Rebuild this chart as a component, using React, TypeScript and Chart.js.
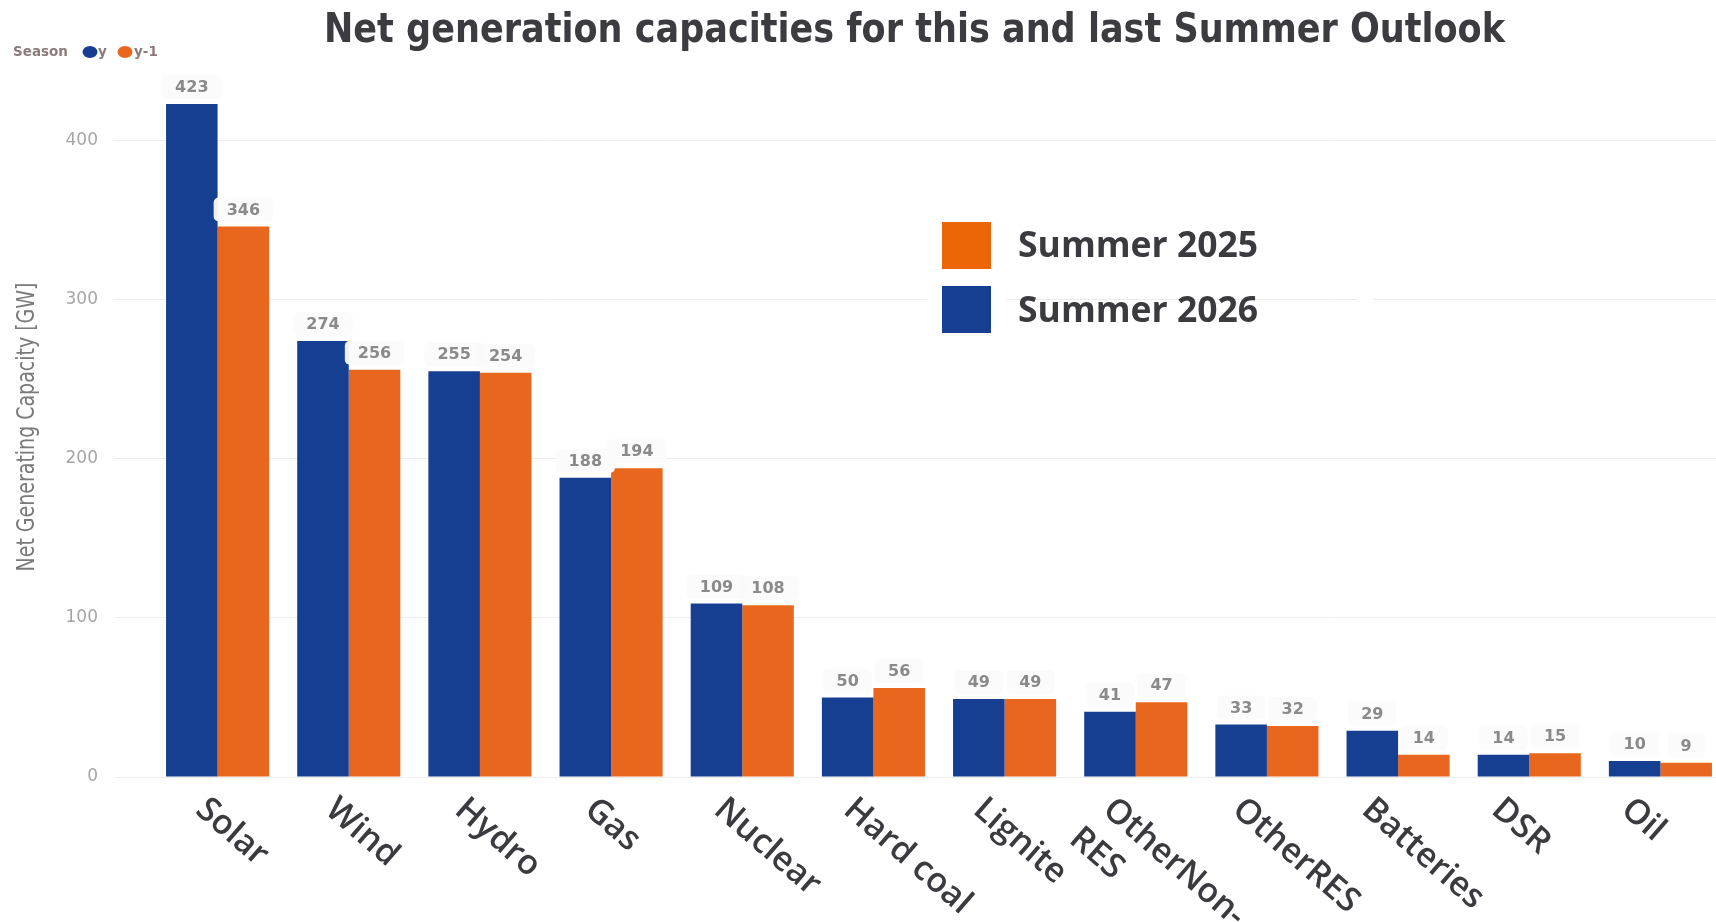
import React, { useEffect, useRef } from 'react';
import { Chart, registerables } from 'chart.js';

Chart.register(...registerables);

// ---------- data ----------
const categories = ['Solar', 'Wind', 'Hydro', 'Gas', 'Nuclear', 'Hard coal', 'Lignite', 'OtherNon-RES', 'OtherRES', 'Batteries', 'DSR', 'Oil'];
const categoryLines = [['Solar'], ['Wind'], ['Hydro'], ['Gas'], ['Nuclear'], ['Hard coal'], ['Lignite'], ['OtherNon-', 'RES'], ['OtherRES'], ['Batteries'], ['DSR'], ['Oil']];
const summer2026 = [423, 274, 255, 188, 109, 50, 49, 41, 33, 29, 14, 10];
const summer2025 = [346, 256, 254, 194, 108, 56, 49, 47, 32, 14, 15, 9];
const yTickValues = [0, 100, 200, 300, 400];
const seriesNames = ['Summer 2026', 'Summer 2025'];
const seasonLegend = ['y', 'y-1'];
const titleText = 'Net generation capacities for this and last Summer Outlook';
const yTitleText = 'Net Generating Capacity [GW]';

const BLUE = '#173f91';
const ORANGE = '#e9661e';
const LEG_BLUE = '#163f92';
const LEG_ORANGE = '#ec6608';

function drawFitText(ctx: CanvasRenderingContext2D, text: string, x: number, y: number, width: number) {
  const m = ctx.measureText(text).width;
  ctx.save();
  ctx.translate(x, y);
  ctx.scale(width / m, 1);
  ctx.fillText(text, -m / 2, 0);
  ctx.restore();
}

const decorPlugin = {
  id: 'decor',
  afterDatasetsDraw(chart: any) {
    const ctx: CanvasRenderingContext2D = chart.ctx;
    ctx.save();
    ctx.font = 'bold 16px "DejaVu Sans"';
    ctx.textAlign = 'center';
    ctx.textBaseline = 'middle';
    chart.data.datasets.forEach((ds: any, di: number) => {
      const meta = chart.getDatasetMeta(di);
      meta.data.forEach((el: any, i: number) => {
        const txt = String(ds.data[i]);
        const x = el.x;
        const y = el.y - 17;
        const w = ctx.measureText(txt).width + 26;
        const h = 24;
        ctx.fillStyle = 'rgba(251,251,251,0.94)';
        ctx.beginPath();
        (ctx as any).roundRect(x - w / 2, y - h / 2, w, h, 5);
        ctx.fill();
        ctx.fillStyle = '#8a8a8a';
        ctx.fillText(txt, x, y + 1);
      });
    });
    ctx.restore();
  },
  afterDraw(chart: any) {
    const ctx: CanvasRenderingContext2D = chart.ctx;
    const area = chart.chartArea;
    const xs = chart.scales.x;
    const ys = chart.scales.y;

    // Title
    ctx.save();
    ctx.fillStyle = '#3b3b40';
    ctx.font = 'bold 41px "DejaVu Sans"';
    ctx.textBaseline = 'alphabetic';
    drawFitText(ctx, titleText, 914.5, 42, 1181);
    ctx.restore();

    // Y axis title
    ctx.save();
    ctx.fillStyle = '#7a7a7a';
    ctx.font = '24px "Liberation Sans Narrow", "DejaVu Sans Condensed", sans-serif';
    ctx.textBaseline = 'middle';
    ctx.translate(28, 427);
    ctx.rotate(-Math.PI / 2);
    drawFitText(ctx, yTitleText, 0, 0, 289);
    ctx.restore();

    // small season legend
    ctx.save();
    ctx.textBaseline = 'middle';
    ctx.textAlign = 'left';
    ctx.font = 'bold 13.5px "DejaVu Sans"';
    ctx.fillStyle = '#8a7c7a';
    ctx.fillText('Season', 13, 52);
    ctx.fillStyle = BLUE;
    ctx.beginPath(); ctx.ellipse(90, 52, 7.5, 6, 0, 0, Math.PI * 2); ctx.fill();
    ctx.fillStyle = '#8a7c7a';
    ctx.fillText(seasonLegend[0], 98, 52);
    ctx.fillStyle = ORANGE;
    ctx.beginPath(); ctx.ellipse(125, 52, 7.5, 6, 0, 0, Math.PI * 2); ctx.fill();
    ctx.fillStyle = '#8a7c7a';
    ctx.fillText(seasonLegend[1], 134, 52);
    ctx.restore();

    // Big legend
    ctx.save();
    const gy = ys.getPixelForValue(300);
    ctx.fillStyle = '#ffffff';
    ctx.fillRect(927, gy - 2, 80, 4);
    ctx.fillRect(1357, gy - 2, 16, 4);
    ctx.fillStyle = LEG_ORANGE;
    ctx.fillRect(942, 222, 49, 47);
    ctx.fillStyle = LEG_BLUE;
    ctx.fillRect(942, 286, 49, 47);
    ctx.fillStyle = '#3a3a3f';
    ctx.font = '700 35.5px "Open Sans"';
    ctx.textBaseline = 'middle';
    ctx.textAlign = 'left';
    ctx.fillText(seriesNames[1], 1018, 247);
    ctx.fillText(seriesNames[0], 1018, 312);
    ctx.restore();

    // X category labels (rotated, reading downwards)
    ctx.save();
    ctx.fillStyle = '#3a3a3f';
    ctx.font = '600 34px "Open Sans"';
    ctx.textAlign = 'left';
    ctx.textBaseline = 'middle';
    const ang = (41 * Math.PI) / 180;
    categoryLines.forEach((lines, i) => {
      const cx = xs.getPixelForValue(i);
      ctx.save();
      ctx.translate(cx - 17 - i * 1.6, area.bottom + 28);
      ctx.rotate(ang);
      lines.forEach((t, j) => ctx.fillText(t, -6 * j, j * 44));
      ctx.restore();
    });
    ctx.restore();
  },
};

export default function App() {
  const ref = useRef<HTMLCanvasElement | null>(null);
  useEffect(() => {
    if (!ref.current) return;
    const chart = new Chart(ref.current, {
      type: 'bar',
      data: {
        labels: categories,
        datasets: [
          { label: seriesNames[0], data: summer2026, backgroundColor: BLUE, borderWidth: 0 },
          { label: seriesNames[1], data: summer2025, backgroundColor: ORANGE, borderWidth: 0 },
        ],
      },
      options: {
        responsive: false,
        animation: false,
        layout: { padding: { top: 61, left: 0, right: 0, bottom: 0 } },
        plugins: { legend: { display: false }, title: { display: false }, tooltip: { enabled: false } },
        datasets: { bar: { barPercentage: 1, categoryPercentage: 0.786 } },
        scales: {
          x: {
            grid: { display: false },
            border: { display: false },
            ticks: { display: false },
            afterFit: (s: any) => { s.height = 145; },
          },
          y: {
            min: 0,
            max: 450,
            border: { display: false },
            grid: { color: '#ececec', tickColor: '#ececec', drawTicks: true, tickLength: 38, lineWidth: 1 },
            ticks: {
              stepSize: 100,
              padding: 16,
              color: '#a6a6a6',
              font: { family: 'DejaVu Sans', size: 17 },
            },
            afterBuildTicks: (s: any) => {
              s.ticks = yTickValues.map((v) => ({ value: v }));
            },
            afterFit: (s: any) => { s.width = 152; },
          },
        },
      } as any,
      plugins: [decorPlugin],
    });
    return () => chart.destroy();
  }, []);
  return (
    <div style={{ position: 'fixed', left: 0, top: 0, width: 1716, height: 922, overflow: 'hidden', background: '#fff' }}>
      <canvas ref={ref} width={1726} height={922} style={{ display: 'block' }} />
    </div>
  );
}
